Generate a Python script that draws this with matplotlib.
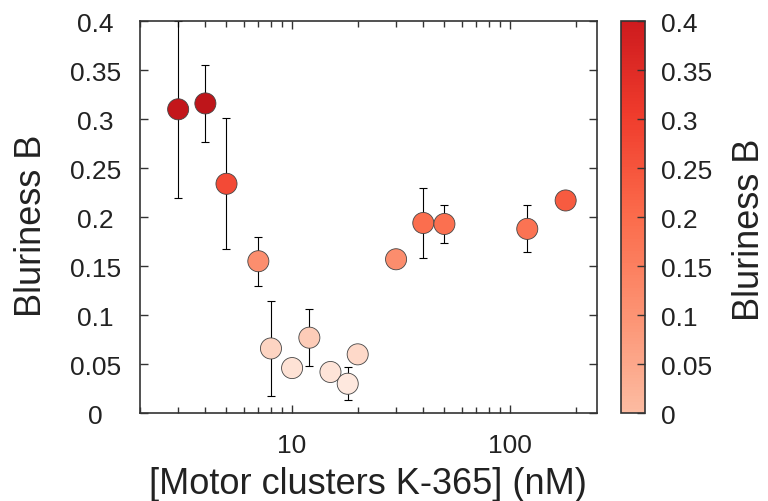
import numpy as np
import matplotlib
matplotlib.use("Agg")
import matplotlib.pyplot as plt
from matplotlib.colors import ListedColormap, Normalize
from matplotlib.cm import ScalarMappable
from matplotlib.ticker import FixedLocator, NullFormatter

plt.rcParams['font.family'] = ['Liberation Sans', 'DejaVu Sans']

# motor cluster concentration (nM), bluriness and its error
conc = [3, 4, 5, 7, 8, 10, 12, 15, 18, 20, 30, 40, 50, 120, 180]
blur = [0.310, 0.316, 0.234, 0.155, 0.066, 0.046, 0.077, 0.042, 0.030,
        0.060, 0.157, 0.194, 0.193, 0.188, 0.217]
blur_err = [0.090, 0.039, 0.067, 0.025, 0.048, 0.0, 0.029, 0.0, 0.017,
            0.007, 0.0, 0.036, 0.019, 0.024, 0.0]

y_ticks = [0, 0.05, 0.1, 0.15, 0.2, 0.25, 0.3, 0.35, 0.4]
y_tick_labels = ["0", "0.05", "0.1", "0.15", "0.2", "0.25", "0.3", "0.35", "0.4"]

text_col = "#222222"
frame_col = "#333333"

fig = plt.figure(figsize=(7.68, 5.02), dpi=100)
ax = fig.add_axes([0.182, 0.175, 0.595, 0.781])

err = np.array(blur_err)
has_err = err > 0
ax.errorbar(np.array(conc)[has_err], np.array(blur)[has_err], yerr=err[has_err],
            fmt="none", ecolor="black", elinewidth=0.8, capsize=3, capthick=0.8,
            zorder=2)

norm = Normalize(vmin=0, vmax=0.4)
ax.scatter(conc, blur, c=blur, cmap="Reds", norm=norm, s=230,
           edgecolors="#444444", linewidths=0.6, zorder=3)

ax.set_xscale("log")
ax.set_xlim(2, 250)
ax.set_ylim(0, 0.4)
ax.set_xticks([10, 100])
ax.set_xticklabels(["10", "100"])
ax.xaxis.set_minor_locator(FixedLocator([2, 3, 4, 5, 6, 7, 8, 9,
                                         20, 30, 40, 50, 60, 70, 80, 90, 200]))
ax.xaxis.set_minor_formatter(NullFormatter())
ax.set_yticks(y_ticks)
ax.set_yticklabels(y_tick_labels)

ax.tick_params(which="both", direction="in", top=True, right=True,
               colors=frame_col, labelcolor=text_col, labelsize=19, width=1)
ax.tick_params(which="major", length=6)
ax.tick_params(which="minor", length=4)
ax.tick_params(axis="x", pad=14)
ax.tick_params(axis="y", pad=32)
for lab in ax.get_yticklabels():
    lab.set_horizontalalignment("center")
for sp in ax.spines.values():
    sp.set_color(frame_col)
    sp.set_linewidth(1.2)

ax.set_xlabel("[Motor clusters K-365] (nM)", fontsize=26, color=text_col,
              labelpad=7)
ax.set_ylabel("Bluriness B", fontsize=26, color=text_col)
ax.yaxis.set_label_coords(-0.198, 0.48)

# colour bar uses the middle part of the Reds map
bar_cmap = ListedColormap(plt.get_cmap("Reds")(np.linspace(0.25, 0.74, 256)))
cax = fig.add_axes([0.8086, 0.175, 0.031, 0.781])
cb = fig.colorbar(ScalarMappable(norm=norm, cmap=bar_cmap), cax=cax)
cb.set_ticks(y_ticks)
cb.set_ticklabels(y_tick_labels)
cb.ax.tick_params(direction="in", length=6, width=1, colors=frame_col,
                  labelcolor=text_col, labelsize=19, pad=12)
cb.outline.set_edgecolor(frame_col)
cb.outline.set_linewidth(1.2)
cb.set_label("Bluriness B", fontsize=26, color=text_col, labelpad=14)
cb.ax.yaxis.label.set_y(0.47)

fig.savefig("out.png", dpi=100)
